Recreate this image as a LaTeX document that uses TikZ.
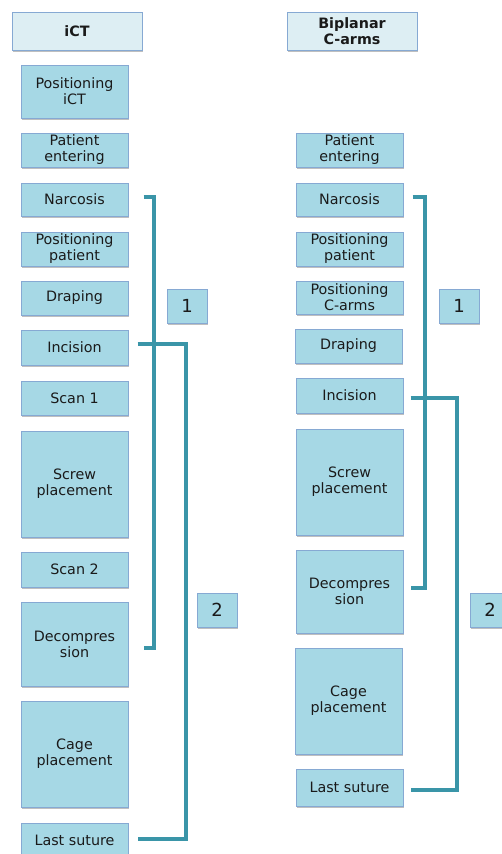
\documentclass[tikz,border=0pt]{standalone}
\usepackage{fontspec}
\setmainfont{DejaVu Sans}
\usetikzlibrary{shadows,calc}
\definecolor{boxfill}{HTML}{A6D8E5}
\definecolor{headfill}{HTML}{DDEEF3}
\definecolor{boxline}{HTML}{86A9D3}
\definecolor{brk}{HTML}{3A95A8}
\definecolor{txt}{HTML}{1A1A1A}
\tikzset{
  stepbox/.style={draw=boxline, line width=1pt, fill=boxfill, text=txt,
    align=center, inner sep=0pt, font=\fontsize{14.3}{16}\selectfont,
    drop shadow={shadow xshift=1pt, shadow yshift=-2pt, opacity=0.25, fill=black}},
  headbox/.style={stepbox, fill=headfill, font=\fontsize{14.3}{16}\selectfont\bfseries},
  numbox/.style={stepbox, font=\fontsize{18}{20}\selectfont},
  bracket/.style={draw=brk, line width=4pt}
}
% \bx{name}{style}{x1}{y1}{x2}{y2}{text}
\newcommand{\bx}[7]{\node[#2, minimum width={#5-#3}, minimum height={#6-#4}]
  (#1) at ({(#3+#5)/2},{(#4+#6)/2}) {#7};}
\begin{document}
\begin{tikzpicture}[x=1pt, y=-1pt]
\useasboundingbox (0,0) rectangle (502,854);
% headers
\bx{hL}{headbox}{12}{12}{142}{50}{iCT}
\bx{hR}{headbox}{287}{12}{417}{50}{Biplanar\\C-arms}
% left column
\bx{posict}{stepbox}{21}{65}{128}{118}{Positioning\\iCT}
\bx{patL}{stepbox}{21}{133}{128}{167}{Patient\\entering}
\bx{narcL}{stepbox}{21}{183}{128}{216}{Narcosis}
\bx{pospL}{stepbox}{21}{232}{128}{266}{Positioning\\patient}
\bx{drapL}{stepbox}{21}{281}{128}{315}{Draping}
\bx{incL}{stepbox}{21}{330}{128}{365}{Incision}
\bx{scanA}{stepbox}{21}{381}{128}{415}{Scan 1}
\bx{screwL}{stepbox}{21}{431}{128}{537}{Screw\\placement}
\bx{scanB}{stepbox}{21}{552}{128}{587}{Scan 2}
\bx{decL}{stepbox}{21}{602}{128}{686}{Decompres\\sion}
\bx{cageL}{stepbox}{21}{701}{128}{807}{Cage\\placement}
\bx{lastL}{stepbox}{21}{823}{128}{858}{Last suture}
% right column
\bx{patR}{stepbox}{296}{133}{403}{167}{Patient\\entering}
\bx{narcR}{stepbox}{296}{183}{403}{216}{Narcosis}
\bx{pospR}{stepbox}{296}{232}{403}{266}{Positioning\\patient}
\bx{poscR}{stepbox}{296}{281}{403}{314}{Positioning\\C-arms}
\bx{drapR}{stepbox}{295}{329}{402}{363}{Draping}
\bx{incR}{stepbox}{296}{378}{403}{413}{Incision}
\bx{screwR}{stepbox}{296}{429}{403}{535}{Screw\\placement}
\bx{decR}{stepbox}{296}{550}{403}{633}{Decompres\\sion}
\bx{cageR}{stepbox}{295}{648}{402}{754}{Cage\\placement}
\bx{lastR}{stepbox}{296}{769}{403}{806}{Last suture}
% number boxes
\bx{oneL}{numbox}{167}{289}{207}{323}{1}
\bx{twoL}{numbox}{197}{593}{237}{627}{2}
\bx{oneR}{numbox}{439}{289}{479}{323}{1}
\bx{twoR}{numbox}{470}{593}{510}{627}{2}
% brackets left
\draw[bracket] ($(narcL.east)+(15,-2.5)$) -- ++(10,0) |- ($(decL.east)+(15,4)$);
\draw[bracket] ($(incL.east)+(9,-3.5)$) -- ++(48,0) |- ($(lastL.east)+(9,-1.5)$);
% brackets right
\draw[bracket] ($(narcR.east)+(9,-2.5)$) -- ++(12,0) |- ($(decR.east)+(7,-3.5)$);
\draw[bracket] ($(incR.east)+(7,2.5)$) -- ++(46,0) |- ($(lastR.east)+(7,2.5)$);
\end{tikzpicture}
\end{document}
